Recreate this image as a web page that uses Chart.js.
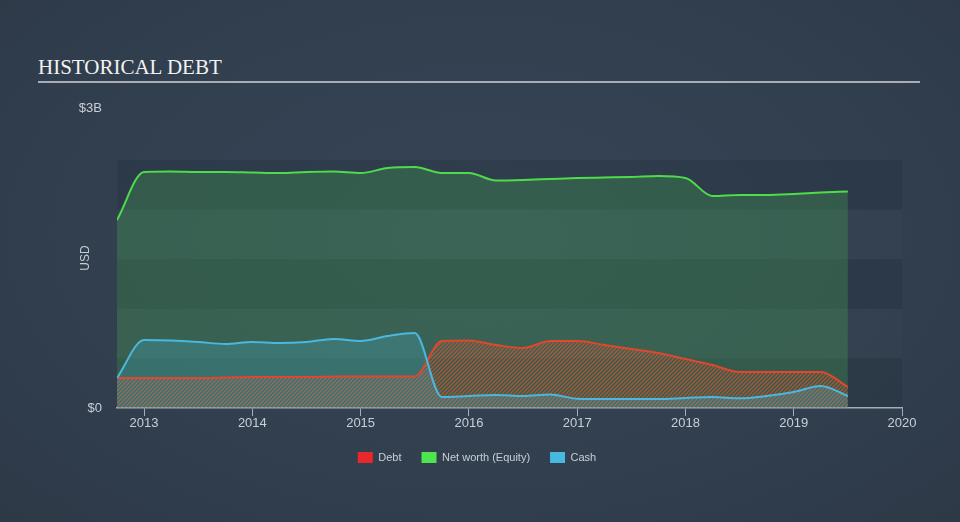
<!DOCTYPE html>
<html><head><meta charset="utf-8">
<script src="https://cdn.jsdelivr.net/npm/chart.js@4.4.1/dist/chart.umd.min.js"></script>
<style>
html,body{margin:0;padding:0;width:960px;height:522px;overflow:hidden;}
body{background: radial-gradient(ellipse at 50% 45%, #364456 0%, #323f4f 60%, #2d3947 100%); position:relative; font-family:"Liberation Sans",Arial,sans-serif;}
#title{position:absolute;left:38px;top:55px;font-family:"Liberation Serif","Times New Roman",serif;font-size:21px;color:#f2f2f2;line-height:24px;white-space:nowrap;}
#rule{position:absolute;left:38px;top:81px;width:882px;height:2px;background:#a9adb5;}
#wrap{position:absolute;left:0;top:0;width:960px;height:522px;}
</style></head>
<body>
<div id="title">HISTORICAL DEBT</div>
<div id="rule"></div>
<div id="wrap"><canvas id="c" width="960" height="522"></canvas></div>
<script>
// ---- data (USD billions) ----
const quarters = [2012.75, 2013.0, 2013.25, 2013.5, 2013.75, 2014.0, 2014.25, 2014.5, 2014.75,
  2015.0, 2015.25, 2015.5, 2015.75, 2016.0, 2016.25, 2016.5, 2016.75, 2017.0, 2017.25, 2017.5,
  2017.75, 2018.0, 2018.25, 2018.5, 2018.75, 2019.0, 2019.25, 2019.5];
const debt = [0.30, 0.30, 0.30, 0.30, 0.305, 0.31, 0.31, 0.31, 0.315,
  0.315, 0.315, 0.315, 0.67, 0.675, 0.63, 0.60, 0.67, 0.67, 0.63, 0.59,
  0.55, 0.49, 0.43, 0.36, 0.36, 0.36, 0.36, 0.21];
const equity = [1.88, 2.36, 2.365, 2.36, 2.36, 2.355, 2.35, 2.36, 2.365,
  2.35, 2.40, 2.41, 2.35, 2.35, 2.275, 2.28, 2.29, 2.30, 2.305, 2.31,
  2.32, 2.30, 2.12, 2.13, 2.13, 2.14, 2.155, 2.165];
const cash = [0.30, 0.68, 0.675, 0.66, 0.64, 0.66, 0.65, 0.66, 0.69,
  0.67, 0.72, 0.75, 0.11, 0.12, 0.13, 0.12, 0.135, 0.093, 0.09, 0.09,
  0.09, 0.10, 0.11, 0.097, 0.12, 0.16, 0.22, 0.12];
const seriesNames = ["Debt", "Net worth (Equity)", "Cash"];
const yearTicks = [2013, 2014, 2015, 2016, 2017, 2018, 2019, 2020];
const yTicks = [0, 3];
const bandTop = 2.48;

// ---- styles ----
const lineColors = ["#e0472c", "#4fdc4a", "#4ab8de"];
const legendColors = ["#e8282a", "#4de44d", "#47b9df"];

const ctx = document.getElementById('c').getContext('2d');
const hatchPattern = ctx.createPattern((function(){
  const s = 4; const cv = document.createElement('canvas'); cv.width = s; cv.height = s;
  const g = cv.getContext('2d'); g.strokeStyle = 'rgba(226,86,52,0.68)'; g.lineWidth = 1.3;
  g.beginPath(); g.moveTo(0, s); g.lineTo(s, 0); g.moveTo(-1, 1); g.lineTo(1, -1);
  g.moveTo(s - 1, s + 1); g.lineTo(s + 1, s - 1); g.stroke(); return cv; })(), 'repeat');

const pts = arr => quarters.map((q, i) => ({x: q, y: arr[i]}));

const bands = {
  id: 'bands',
  beforeDraw(chart) {
    const {ctx, chartArea, scales: {y}} = chart;
    const n = 5;
    for (let i = 0; i < n; i++) {
      const v1 = bandTop - i * bandTop / n, v2 = bandTop - (i + 1) * bandTop / n;
      const p1 = y.getPixelForValue(v1), p2 = y.getPixelForValue(v2);
      ctx.fillStyle = (i % 2 === 0) ? 'rgba(20,28,40,0.16)' : 'rgba(255,255,255,0.01)';
      ctx.fillRect(chartArea.left, p1, chartArea.right - chartArea.left, p2 - p1);
    }
  },
  afterLayout(chart) {
    const lg = chart.legend;
    if (lg) { lg.left = 0; lg.right = 954; lg.width = 954; }
  }
};

new Chart(ctx, {
  type: 'line',
  data: {
    datasets: [
      {label: seriesNames[0], data: pts(debt), borderColor: lineColors[0], backgroundColor: hatchPattern,
       fill: 'origin', order: 2, borderWidth: 2},
      {label: seriesNames[1], data: pts(equity), borderColor: lineColors[1], backgroundColor: 'rgba(72,190,84,0.25)',
       fill: 'origin', order: 3, borderWidth: 2},
      {label: seriesNames[2], data: pts(cash), borderColor: lineColors[2], backgroundColor: 'rgba(71,184,219,0.24)',
       fill: 'origin', order: 1, borderWidth: 2}
    ]
  },
  options: {
    responsive: false, animation: false, devicePixelRatio: 1,
    elements: {point: {radius: 0, hoverRadius: 0}, line: {cubicInterpolationMode: 'monotone'}},
    layout: {padding: {left: 0, right: 58, top: 108, bottom: 49}},
    plugins: {
      filler: {drawTime: 'beforeDatasetsDraw'},
      tooltip: {enabled: false},
      legend: {
        position: 'bottom',
        labels: {
          boxWidth: 15, boxHeight: 11, padding: 20, color: '#c9ced6',
          font: {family: "'Liberation Sans', Arial, sans-serif", size: 11},
          generateLabels: () => seriesNames.map((name, i) => ({
            text: name, fillStyle: legendColors[i], strokeStyle: legendColors[i], lineWidth: 0,
            hidden: false, datasetIndex: i, fontColor: '#c9ced6'
          }))
        }
      }
    },
    scales: {
      x: {
        type: 'linear', min: quarters[0], max: yearTicks[yearTicks.length - 1],
        afterBuildTicks: s => { s.ticks = yearTicks.map(v => ({value: v})); },
        afterFit: s => { s.height = 24; },
        ticks: {autoSkip: false, maxRotation: 0, padding: 0, color: '#c9ced6',
          font: {family: "'Liberation Sans', Arial, sans-serif", size: 13},
          callback: v => String(v)},
        grid: {drawOnChartArea: false, drawTicks: true, tickLength: 8, color: '#a3adbb', lineWidth: 1},
        border: {display: true, color: '#a3adbb', width: 1.5}
      },
      y: {
        min: 0, max: 3,
        afterBuildTicks: s => { s.ticks = yTicks.map(v => ({value: v})); },
        afterFit: s => { s.width = 117; },
        ticks: {padding: 15, color: '#c9ced6',
          font: {family: "'Liberation Sans', Arial, sans-serif", size: 13},
          callback: v => v === 0 ? '$0' : '$' + v + 'B'},
        grid: {display: false, drawTicks: false},
        border: {display: false},
        title: {display: true, text: 'USD', color: '#c9ced6', padding: {top: 78, bottom: 0},
          font: {family: "'Liberation Sans', Arial, sans-serif", size: 12}}
      }
    }
  },
  plugins: [bands]
});
</script>
</body></html>
